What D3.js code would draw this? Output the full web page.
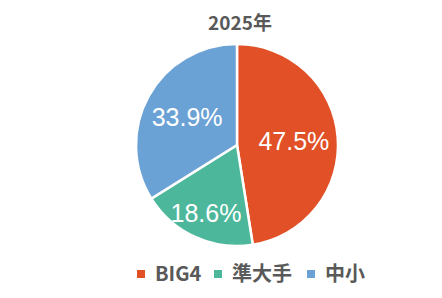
<!DOCTYPE html>
<html lang="ja">
<head>
<meta charset="UTF-8">
<script src="https://d3js.org/d3.v7.min.js"></script>
<style>
  body { margin: 0; background: #fff; }
  svg { display: block; }
</style>
</head>
<body>
<svg id="chart" width="442" height="298"></svg>
<script>
var title = "2025年";
var categories = ["BIG4", "準大手", "中小"];
var shares = [47.5, 18.6, 33.9];
var colors = ["#E15026", "#4DB79B", "#6BA2D5"];

var svg = d3.select("#chart");
var cx = 237, cy = 145, radius = 101;

svg.append("text")
  .attr("x", 240).attr("y", 30)
  .attr("text-anchor", "middle")
  .attr("font-family", "'Noto Sans CJK JP', 'Noto Sans', sans-serif")
  .attr("font-weight", "bold")
  .attr("font-size", "19px")
  .attr("fill", "#595959")
  .text(title);

var pie = d3.pie().sort(null).value(d => d);
var arcs = pie(shares);
var arc = d3.arc().innerRadius(0).outerRadius(radius);

var g = svg.append("g").attr("transform", "translate(" + cx + "," + cy + ")");

g.selectAll("path").data(arcs).enter().append("path")
  .attr("d", arc)
  .attr("fill", (d, i) => colors[i])
  .attr("stroke", "#fff")
  .attr("stroke-width", 2.5)
  .attr("stroke-linejoin", "miter");

// label distance from centre, small slice sits further out
var labelArc = d3.arc().innerRadius(0).outerRadius(d => d.value < 25 ? 150 : 114);

g.selectAll("text.lbl").data(arcs).enter().append("text")
  .attr("class", "lbl")
  .attr("transform", d => "translate(" + labelArc.centroid(d) + ")")
  .attr("text-anchor", "middle")
  .attr("dy", "0.36em")
  .attr("font-family", "'Liberation Sans', Arial, sans-serif")
  .attr("font-size", "25px")
  .attr("fill", "#fff")
  .text(d => d.value.toFixed(1) + "%");

// legend
var legendX = [137, 214, 307];
var lg = svg.append("g");
categories.forEach(function(c, i) {
  lg.append("rect")
    .attr("x", legendX[i]).attr("y", 270)
    .attr("width", 8).attr("height", 8)
    .attr("fill", colors[i]);
  lg.append("text")
    .attr("x", legendX[i] + 18).attr("y", 281)
    .attr("font-family", "'Noto Sans CJK JP', 'Noto Sans', sans-serif")
    .attr("font-weight", "bold")
    .attr("font-size", "20px")
    .attr("fill", "#595959")
    .text(c);
});
</script>
</body>
</html>
